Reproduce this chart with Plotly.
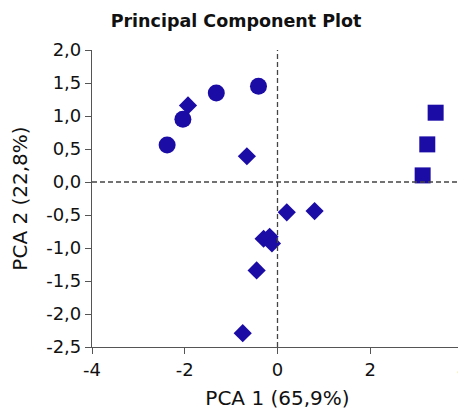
import plotly.graph_objects as go

# Data
circle_x = [-2.38, -2.04, -1.32, -0.41]
circle_y = [0.56, 0.95, 1.35, 1.45]

diamond_x = [-1.93, -0.66, 0.20, 0.80, -0.30, -0.17, -0.12, -0.45, -0.75]
diamond_y = [1.16, 0.39, -0.46, -0.44, -0.86, -0.83, -0.93, -1.34, -2.29]

square_x = [3.41, 3.23, 3.13]
square_y = [1.05, 0.57, 0.10]

x_ticks = [-4, -2, 0, 2, 4]
x_ticktext = ["-4", "-2", "0", "2", "4"]
y_ticks = [2.0, 1.5, 1.0, 0.5, 0.0, -0.5, -1.0, -1.5, -2.0, -2.5]
y_ticktext = ["2,0", "1,5", "1,0", "0,5", "0,0", "-0,5", "-1,0", "-1,5", "-2,0", "-2,5"]

color = "#1c0ca6"
font = "DejaVu Sans, sans-serif"

fig = go.Figure()
fig.add_trace(go.Scatter(x=circle_x, y=circle_y, mode="markers",
                         marker=dict(symbol="circle", size=17, color=color, line=dict(width=0))))
fig.add_trace(go.Scatter(x=diamond_x, y=diamond_y, mode="markers",
                         marker=dict(symbol="diamond", size=14, color=color, line=dict(width=0))))
fig.add_trace(go.Scatter(x=square_x, y=square_y, mode="markers",
                         marker=dict(symbol="square", size=16, color=color, line=dict(width=0))))

# reference lines at 0
fig.add_hline(y=0, line=dict(color="#444444", width=1.3, dash="5px,3px"))
fig.add_vline(x=0, line=dict(color="#444444", width=1.3, dash="5px,3px"))

# the page body adds an 8px offset, so the figure is sized to fill the rest
fig.update_layout(
    width=458, height=403,
    margin=dict(l=84, r=3, t=42, b=64),
    paper_bgcolor="white", plot_bgcolor="white",
    showlegend=False,
    font=dict(family=font, size=18, color="#111111"),
    title=dict(text="<b>Principal Component Plot</b>", x=0.498, xanchor="center",
               y=0.968, yanchor="middle",
               font=dict(family=font, size=17.5, color="#111111")),
)
fig.update_xaxes(range=[-4, 4], tickvals=x_ticks, ticktext=x_ticktext,
                 showgrid=False, zeroline=False, showline=True, linecolor="#555555",
                 linewidth=1.2, ticks="outside", ticklen=6, tickcolor="#555555",
                 automargin=False, ticklabeloverflow="allow",
                 title=dict(text="PCA 1 (65,9%)", standoff=12, font=dict(size=20)),
                 tickfont=dict(size=18))
fig.update_yaxes(range=[-2.5, 2.0], tickvals=y_ticks, ticktext=y_ticktext,
                 showgrid=False, zeroline=False, showline=True, linecolor="#555555",
                 linewidth=1.2, ticks="outside", ticklen=6, tickcolor="#555555",
                 automargin=False, ticklabeloverflow="allow",
                 title=dict(text="PCA 2 (22,8%)", standoff=13, font=dict(size=20)),
                 tickfont=dict(size=18))

fig.write_html("out.html")
